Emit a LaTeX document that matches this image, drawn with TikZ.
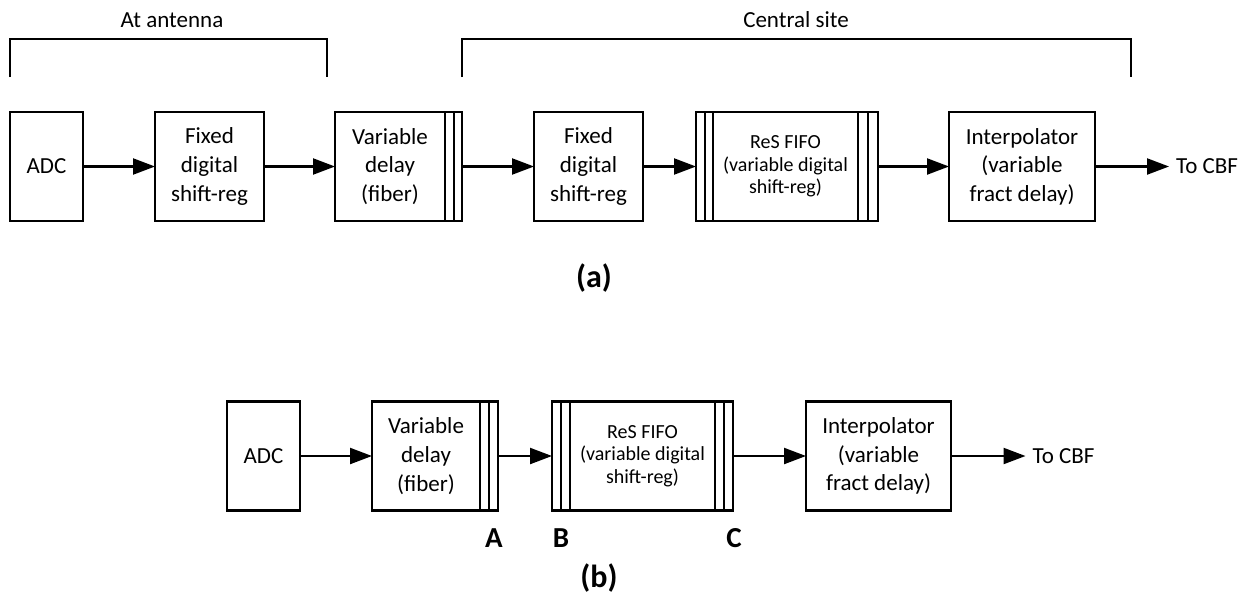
\documentclass[tikz,border=0pt]{standalone}
\usepackage{fontspec}
\setmainfont{Carlito}
\usetikzlibrary{positioning,arrows.meta}

\tikzset{
	blk/.style={draw, line width=1.3pt, align=center, minimum height=54.5pt,
		inner sep=1pt, outer sep=0pt, font=\fontsize{11.5pt}{14.3pt}\selectfont},
	stripes/.style={draw, line width=1.3pt, minimum height=54.5pt, minimum width=#1,
		inner sep=0pt, outer sep=0pt,
		path picture={\draw[line width=1pt] (path picture bounding box.north) -- (path picture bounding box.south);}},
	stripes/.default=9pt,
	sig/.style={line width=1.1pt, -{Triangle[length=11pt,width=8pt]}},
	brk/.style={line width=1.1pt},
	txt/.style={font=\fontsize{11.5pt}{14.3pt}\selectfont},
	small/.style={font=\fontsize{10pt}{11.3pt}\selectfont},
	tag/.style={font=\bfseries\fontsize{14.5pt}{17pt}\selectfont},
	subcap/.style={font=\bfseries\fontsize{16pt}{19pt}\selectfont},
}

\begin{document}
\begin{tikzpicture}[x=0.5pt, y=-0.5pt]

	% ---- frame

	\useasboundingbox (0,0) rectangle (1245,600);

	% ---- parameters

	\def\rowa{166.5}
	\def\rowb{456}

	% ---- brackets

	\draw[brk] (10,77) -- (10,39) -- (327,39) -- (327,77);
	\draw[brk] (462,77) -- (462,39) -- (1131,39) -- (1131,77);

	\node[txt] (antenna) at (172,20) {At antenna};
	\node[txt] (central) at (796,20) {Central site};

	% ---- row (a)

	\node[blk, minimum width=36.5pt] (adcA) at (46.5,\rowa) {ADC};
	\node[blk, minimum width=54.5pt] (fxA) at (209.5,\rowa) {Fixed\\digital\\shift-reg};
	\node[blk, minimum width=55pt] (vdA) at (390,\rowa) {Variable\\delay\\(fiber)};
	\node[stripes=8.5pt, right=0pt of vdA] (vdAs) {};
	\node[blk, minimum width=54.5pt] (fxA2) at (588.5,\rowa) {Fixed\\digital\\shift-reg};
	\node[blk, small, minimum width=72.5pt] (ffA) at (785.5,\rowa) {ReS FIFO\\(variable digital\\shift-reg)};
	\node[stripes=8.5pt, left=0pt of ffA] (ffAl) {};
	\node[stripes=10pt, right=0pt of ffA] (ffAr) {};
	\node[blk, minimum width=73pt] (intA) at (1022,\rowa) {Interpolator\\(variable\\fract delay)};
	\node[txt] (cbfA) at (1207,\rowa) {To CBF};

	\draw[sig] (adcA.east) -- (fxA.west);
	\draw[sig] (fxA.east) -- (vdA.west);
	\draw[sig] (vdAs.east) -- (fxA2.west);
	\draw[sig] (fxA2.east) -- (ffAl.west);
	\draw[sig] (ffAr.east) -- (intA.west);
	\draw[sig] (intA.east) -- (cbfA.west);

	\node[subcap] (capA) at (594,278) {(a)};

	% ---- row (b)

	\node[blk, minimum width=36.5pt] (adcB) at (263.5,\rowb) {ADC};
	\node[blk, minimum width=54pt] (vdB) at (426,\rowb) {Variable\\delay\\(fiber)};
	\node[stripes=9pt, right=0pt of vdB] (vdBs) {};
	\node[blk, small, minimum width=72.5pt] (ffB) at (642.5,\rowb) {ReS FIFO\\(variable digital\\shift-reg)};
	\node[stripes=9pt, left=0pt of ffB] (ffBl) {};
	\node[stripes=9pt, right=0pt of ffB] (ffBr) {};
	\node[blk, minimum width=72.5pt] (intB) at (878.5,\rowb) {Interpolator\\(variable\\fract delay)};
	\node[txt] (cbfB) at (1063.5,\rowb) {To CBF};

	\draw[sig] (adcB.east) -- (vdB.west);
	\draw[sig] (vdBs.east) -- (ffBl.west);
	\draw[sig] (ffBr.east) -- (intB.west);
	\draw[sig] (intB.east) -- (cbfB.west);

	% ---- point labels

	\node[tag] (ptA) at (494,538) {A};
	\node[tag] (ptB) at (561,538) {B};
	\node[tag] (ptC) at (734,538) {C};

	\node[subcap] (capB) at (599,578) {(b)};

\end{tikzpicture}
\end{document}
